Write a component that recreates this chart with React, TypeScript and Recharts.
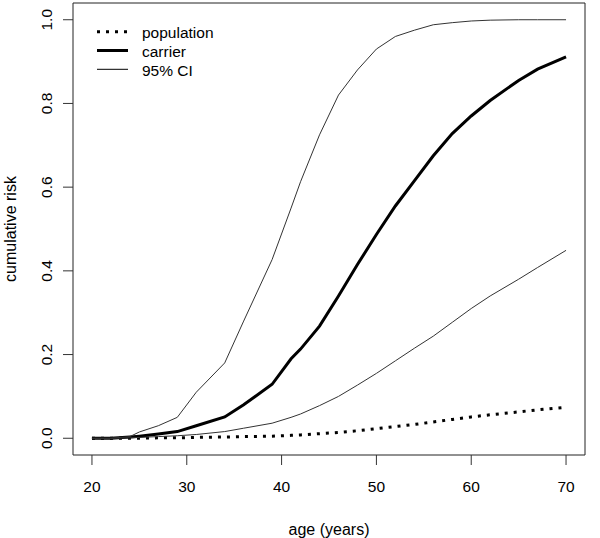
import React from "react";
import {
  LineChart,
  Line,
  XAxis,
  YAxis,
  ReferenceArea,
} from "recharts";

const ages = [20, 22, 24, 25, 27, 29, 31, 34, 36, 39, 41, 42, 44, 46, 48, 50, 52, 54, 56, 58, 60, 62, 65, 67, 70];

const population = [0, 0, 0, 0, 0.001, 0.001, 0.002, 0.003, 0.004, 0.005, 0.007, 0.008, 0.011, 0.014, 0.018, 0.023, 0.028, 0.033, 0.039, 0.045, 0.051, 0.056, 0.063, 0.068, 0.074];
const carrier = [0, 0, 0.003, 0.005, 0.01, 0.016, 0.03, 0.051, 0.08, 0.129, 0.19, 0.213, 0.268, 0.34, 0.415, 0.487, 0.555, 0.615, 0.675, 0.728, 0.77, 0.807, 0.855, 0.882, 0.911];
const ciUpper = [0, 0, 0.004, 0.015, 0.03, 0.05, 0.11, 0.18, 0.28, 0.427, 0.55, 0.613, 0.725, 0.82, 0.88, 0.93, 0.96, 0.975, 0.988, 0.993, 0.997, 0.999, 1.0, 1.0, 1.0];
const ciLower = [0, 0, 0.001, 0.002, 0.004, 0.006, 0.009, 0.016, 0.024, 0.036, 0.05, 0.058, 0.078, 0.1, 0.127, 0.155, 0.185, 0.215, 0.244, 0.277, 0.31, 0.34, 0.38, 0.408, 0.449];

const xTicks = [20, 30, 40, 50, 60, 70];
const yTicks = [0, 0.2, 0.4, 0.6, 0.8, 1.0];

const legendItems = [
  { label: "population", width: 3, dash: "3 6" },
  { label: "carrier", width: 3, dash: undefined },
  { label: "95% CI", width: 1, dash: undefined },
];

const data = ages.map((age, i) => ({
  age,
  population: population[i],
  carrier: carrier[i],
  upper: ciUpper[i],
  lower: ciLower[i],
}));

const FONT = "'Liberation Sans', Arial, sans-serif";
const FS = 15.5;

function YTick(props: any) {
  const { x, y, payload } = props;
  return (
    <text
      x={x}
      y={y}
      transform={`rotate(-90 ${x} ${y})`}
      textAnchor="middle"
      dominantBaseline="central"
      fontSize={FS}
      fontFamily={FONT}
      fill="#000"
    >
      {payload.value.toFixed(1)}
    </text>
  );
}

function ChartLegend() {
  return (
    <svg width={170} height={70} style={{ position: "absolute", left: 90, top: 20 }}>
      {legendItems.map((it, i) => {
        const y = 11.7 + i * 18.8;
        return (
          <g key={it.label}>
            <line
              x1={7}
              x2={38}
              y1={y}
              y2={y}
              stroke="#000"
              strokeWidth={it.width}
              strokeDasharray={it.dash}
            />
            <text
              x={52}
              y={y + 1}
              dominantBaseline="central"
              fontSize={FS}
              fontFamily={FONT}
              fill="#000"
            >
              {it.label}
            </text>
          </g>
        );
      })}
    </svg>
  );
}

export default function App() {
  return (
    <div style={{ position: "absolute", left: 0, top: 0, width: 600, height: 538, background: "#fff" }}>
      <LineChart
        width={600}
        height={538}
        data={data}
        margin={{ top: 3, right: 15, bottom: 0, left: 0 }}
      >
        <XAxis
          dataKey="age"
          type="number"
          domain={[18, 72]}
          ticks={xTicks}
          allowDataOverflow
          axisLine={false}
          tickSize={10}
          tickMargin={16}
          height={83}
          tick={{ fontSize: FS, fontFamily: FONT, fill: "#000" }}
          tickLine={{ stroke: "#333" }}
          label={{
            content: ({ viewBox }: any) => (
              <text
                x={viewBox.x + viewBox.width / 2}
                y={529}
                textAnchor="middle"
                dominantBaseline="central"
                fontSize={16}
                fontFamily={FONT}
                fill="#000"
              >
                age (years)
              </text>
            ),
          }}
        />
        <YAxis
          type="number"
          domain={[-0.04, 1.04]}
          ticks={yTicks}
          allowDataOverflow
          axisLine={false}
          width={73}
          tickSize={10}
          tickMargin={16}
          tick={<YTick />}
          tickLine={{ stroke: "#333" }}
          label={{
            content: ({ viewBox }: any) => {
              const cx = 10;
              const cy = viewBox.y + viewBox.height / 2;
              return (
                <text
                  x={cx}
                  y={cy}
                  transform={`rotate(-90 ${cx} ${cy})`}
                  textAnchor="middle"
                  dominantBaseline="central"
                  fontSize={16}
                  fontFamily={FONT}
                  fill="#000"
                >
                  cumulative risk
                </text>
              );
            },
          }}
        />
        <ReferenceArea
          x1={18}
          x2={72}
          y1={-0.04}
          y2={1.04}
          fill="none"
          stroke="#222"
          strokeWidth={1}
          fillOpacity={0}
        />
        <Line
          dataKey="population"
          type="linear"
          stroke="#000"
          strokeWidth={3}
          strokeDasharray="3 6"
          dot={false}
          isAnimationActive={false}
        />
        <Line
          dataKey="carrier"
          type="linear"
          stroke="#000"
          strokeWidth={3}
          dot={false}
          isAnimationActive={false}
        />
        <Line
          dataKey="upper"
          type="linear"
          stroke="#333"
          strokeWidth={1}
          dot={false}
          isAnimationActive={false}
        />
        <Line
          dataKey="lower"
          type="linear"
          stroke="#333"
          strokeWidth={1}
          dot={false}
          isAnimationActive={false}
        />
      </LineChart>
      <ChartLegend />
    </div>
  );
}
